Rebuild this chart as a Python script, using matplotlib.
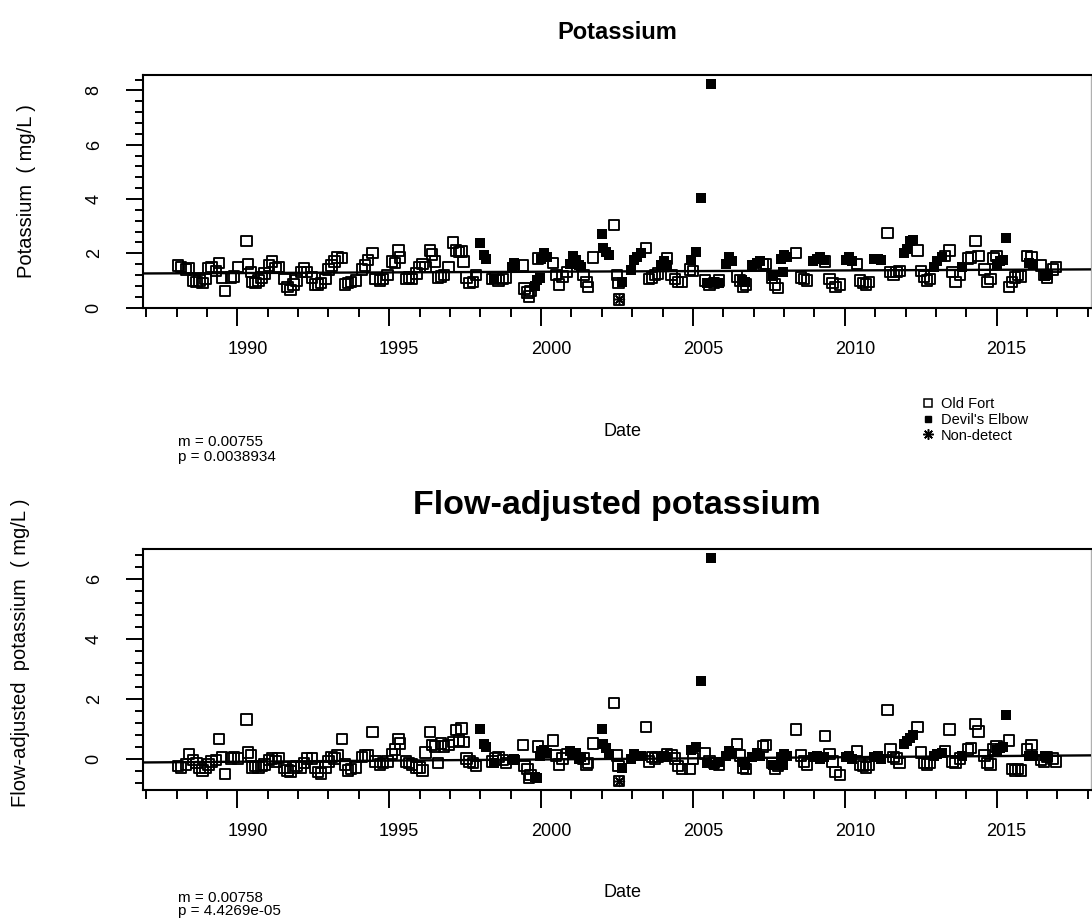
import matplotlib
matplotlib.use("Agg")
import matplotlib.pyplot as plt
from matplotlib.lines import Line2D
from matplotlib.transforms import ScaledTranslation

plt.rcParams['font.family'] = ['Liberation Sans', 'DejaVu Sans']

# Old Fort samples: decimal year, potassium (mg/L), flow-adjusted potassium (mg/L)
old_fort_date = [
    1988.05, 1988.15, 1988.3, 1988.4, 1988.55, 1988.65, 1988.75, 1988.85, 1988.95,
    1989.05, 1989.15, 1989.3, 1989.4, 1989.5, 1989.6, 1989.8, 1989.9,
    1990.03, 1990.3, 1990.35, 1990.45, 1990.5, 1990.6, 1990.7, 1990.8, 1990.9,
    1991.05, 1991.15, 1991.25, 1991.35, 1991.55, 1991.65, 1991.75, 1991.85, 1991.95,
    1992.1, 1992.2, 1992.3, 1992.45, 1992.55, 1992.65, 1992.75, 1992.9,
    1993.0, 1993.1, 1993.2, 1993.3, 1993.45, 1993.55, 1993.65, 1993.75, 1993.9,
    1994.1, 1994.2, 1994.3, 1994.45, 1994.55, 1994.7, 1994.8, 1994.95,
    1995.1, 1995.2, 1995.3, 1995.35, 1995.55, 1995.65, 1995.75, 1995.9,
    1996.0, 1996.1, 1996.2, 1996.35, 1996.4, 1996.5, 1996.6, 1996.7, 1996.8, 1996.95,
    1997.1, 1997.2, 1997.3, 1997.38, 1997.45, 1997.55, 1997.65, 1997.75, 1997.85,
    1998.4, 1998.5, 1998.6, 1998.75, 1998.85,
    1999.4, 1999.45, 1999.55, 1999.6, 1999.65, 1999.9,
    2000.4, 2000.5, 2000.6, 2000.7, 2000.85,
    2001.4, 2001.5, 2001.55, 2001.7,
    2002.4, 2002.5, 2002.55,
    2003.45, 2003.55, 2003.65, 2003.75, 2003.85,
    2004.15, 2004.3, 2004.4, 2004.5, 2004.65, 2004.9,
    2005.0, 2005.4, 2005.55, 2005.7, 2005.85,
    2006.45, 2006.55, 2006.65, 2006.75,
    2007.3, 2007.4, 2007.6, 2007.7, 2007.8,
    2008.4, 2008.55, 2008.65, 2008.75,
    2009.35, 2009.5, 2009.6, 2009.7, 2009.85,
    2010.4, 2010.5, 2010.6, 2010.7, 2010.8,
    2011.4, 2011.5, 2011.6, 2011.7, 2011.8,
    2012.4, 2012.5, 2012.6, 2012.7, 2012.8,
    2013.3, 2013.45, 2013.55, 2013.65, 2013.8,
    2014.05, 2014.15, 2014.3, 2014.4, 2014.6, 2014.7, 2014.8, 2014.9,
    2015.0, 2015.4, 2015.5, 2015.6, 2015.7, 2015.8,
    2016.0, 2016.15, 2016.45, 2016.55, 2016.65, 2016.85, 2016.95,
]
old_fort_k = [
    1.55, 1.5, 1.4, 1.45, 1.0, 0.95, 1.0, 0.9, 1.05,
    1.45, 1.5, 1.35, 1.63, 1.1, 0.6, 1.1, 1.15,
    1.5, 2.45, 1.6, 1.3, 0.95, 0.9, 1.0, 1.1, 1.25,
    1.55, 1.7, 1.45, 1.5, 1.05, 0.75, 0.65, 0.85, 1.0,
    1.3, 1.45, 1.3, 1.1, 0.85, 0.85, 0.9, 1.05,
    1.4, 1.55, 1.7, 1.85, 1.83, 0.85, 0.9, 0.95, 1.0,
    1.4, 1.55, 1.75, 2.0, 1.05, 1.0, 1.05, 1.2,
    1.7, 1.65, 2.1, 1.85, 1.05, 1.1, 1.05, 1.25,
    1.5, 1.6, 1.5, 2.1, 1.95, 1.7, 1.1, 1.15, 1.2, 1.5,
    2.4, 2.1, 2.05, 2.07, 1.7, 1.1, 0.9, 0.95, 1.2,
    1.05, 1.1, 1.0, 1.05, 1.1,
    1.55, 0.7, 0.55, 0.4, 0.6, 1.8,
    1.65, 1.2, 0.85, 1.15, 1.3,
    1.2, 0.95, 0.75, 1.85,
    3.05, 1.2, 0.9,
    2.2, 1.05, 1.1, 1.2, 1.25,
    1.8, 1.2, 1.05, 0.95, 0.95, 1.4,
    1.35, 1.0, 0.85, 0.9, 1.0,
    1.15, 1.0, 0.75, 0.85,
    1.6, 1.6, 1.1, 0.85, 0.72,
    2.0, 1.1, 1.05, 1.0,
    1.7, 1.05, 0.9, 0.75, 0.85,
    1.6, 1.0, 0.9, 0.85, 0.95,
    2.75, 1.3, 1.2, 1.3, 1.35,
    2.1, 1.35, 1.15, 1.0, 1.05,
    1.9, 2.1, 1.3, 0.95, 1.2,
    1.8, 1.85, 2.45, 1.9, 1.4, 0.95, 1.05, 1.8,
    1.9, 0.75, 0.95, 1.1, 1.2, 1.15,
    1.9, 1.85, 1.55, 1.2, 1.1, 1.4, 1.5,
]
old_fort_adj = [
    -0.25, -0.3, -0.2, 0.15, -0.05, -0.15, -0.3, -0.4, -0.3,
    -0.2, -0.1, -0.05, 0.65, 0.05, -0.52, 0.0, 0.05,
    0.0, 1.3, 0.2, 0.1, -0.3, -0.25, -0.3, -0.25, -0.2,
    -0.05, 0.0, -0.1, 0.03, -0.3, -0.4, -0.43, -0.3, -0.25,
    -0.3, -0.15, 0.0, 0.0, -0.3, -0.45, -0.5, -0.3,
    -0.1, 0.05, 0.0, 0.1, 0.65, -0.2, -0.4, -0.35, -0.3,
    0.05, 0.1, 0.1, 0.88, -0.1, -0.2, -0.15, -0.1,
    0.15, 0.3, 0.65, 0.5, -0.1, -0.15, -0.2, -0.3,
    -0.3, -0.4, 0.2, 0.88, 0.45, 0.4, -0.15, 0.5, 0.4, 0.45,
    0.55, 0.95, 0.6, 1.0, 0.55, 0.0, -0.1, -0.15, -0.25,
    -0.1, 0.0, 0.05, -0.05, -0.15,
    0.45, -0.25, -0.35, -0.65, -0.55, 0.4,
    0.6, 0.1, -0.2, 0.0, 0.15,
    0.0, -0.2, -0.15, 0.5,
    1.85, 0.1, -0.25,
    1.05, -0.1, 0.05, 0.0, 0.05,
    0.15, 0.1, 0.0, -0.25, -0.35, -0.35,
    0.0, 0.17, -0.1, -0.15, -0.2,
    0.48, 0.1, -0.3, -0.35,
    0.4, 0.45, -0.15, -0.35, -0.25,
    0.97, 0.1, -0.1, -0.2,
    0.76, 0.15, -0.1, -0.45, -0.55,
    0.25, -0.2, -0.25, -0.3, -0.2,
    1.62, 0.3, 0.05, 0.0, -0.15,
    1.05, 0.2, -0.15, -0.2, -0.15,
    0.25, 0.97, -0.1, -0.15, 0.0,
    0.3, 0.35, 1.15, 0.9, 0.1, -0.15, -0.2, 0.3,
    0.4, 0.6, -0.35, -0.4, -0.35, -0.4,
    0.3, 0.45, -0.05, -0.1, 0.05, 0.0, -0.1,
]

# Devil's Elbow samples
devils_date = [
    1998.0, 1998.12, 1998.18, 1998.45,
    1999.05, 1999.1, 1999.15, 1999.8, 1999.85, 1999.95,
    2000.0, 2000.1, 2000.2, 2000.95,
    2001.05, 2001.15, 2001.25, 2001.3,
    2002.0, 2002.05, 2002.15, 2002.25, 2002.65, 2002.95,
    2003.05, 2003.15, 2003.3, 2003.95,
    2004.05, 2004.15, 2004.95,
    2005.1, 2005.28, 2005.45, 2005.58, 2005.7, 2005.85,
    2006.1, 2006.2, 2006.3, 2006.6, 2006.7, 2006.95,
    2007.1, 2007.2, 2007.65, 2007.9, 2007.95,
    2008.0, 2008.1, 2008.95,
    2009.1, 2009.2, 2009.3,
    2010.05, 2010.15, 2010.25, 2010.95,
    2011.1, 2011.2, 2011.95,
    2012.05, 2012.15, 2012.25, 2012.95,
    2013.05, 2013.2, 2013.85,
    2015.0, 2015.1, 2015.2, 2015.3,
    2016.05, 2016.2, 2016.6, 2016.7,
]
devils_k = [
    2.38, 1.95, 1.8, 1.05,
    1.5, 1.65, 1.55, 0.8, 1.0, 1.1,
    1.8, 2.0, 1.85, 1.6,
    1.9, 1.75, 1.55, 1.5,
    2.7, 2.2, 2.05, 1.95, 0.95, 1.4,
    1.75, 1.85, 2.0, 1.55,
    1.7, 1.55, 1.75,
    2.05, 4.05, 0.9, 8.25, 0.95, 0.9,
    1.6, 1.85, 1.7, 1.0, 0.95, 1.55,
    1.65, 1.7, 1.15, 1.8, 1.3,
    1.95, 1.85, 1.7,
    1.8, 1.85, 1.75,
    1.75, 1.85, 1.7, 1.8,
    1.8, 1.75, 2.0,
    2.15, 2.45, 2.5, 1.5,
    1.7, 1.85, 1.5,
    1.6, 1.7, 1.75, 2.55,
    1.65, 1.6, 1.15, 1.2,
]
devils_adj = [
    1.0, 0.5, 0.4, -0.15,
    -0.05, 0.0, -0.05, -0.6, -0.65, 0.1,
    0.25, 0.3, 0.2, 0.25,
    0.15, 0.2, 0.0, 0.05,
    0.98, 0.5, 0.35, 0.15, -0.3, 0.0,
    0.15, 0.1, 0.1, 0.05,
    0.1, 0.05, 0.3,
    0.4, 2.6, -0.15, 6.7, -0.2, -0.1,
    0.1, 0.25, 0.2, -0.1, -0.2, 0.05,
    0.2, 0.1, -0.2, 0.05, -0.2,
    0.15, 0.1, 0.05,
    0.1, 0.0, 0.05,
    0.05, 0.1, 0.0, 0.05,
    0.1, 0.0, 0.5,
    0.6, 0.7, 0.8, 0.1,
    0.15, 0.2, 0.1,
    0.3, 0.35, 0.4, 1.45,
    0.1, 0.1, 0.1, 0.05,
]

# non-detect sample
nondetect_date = [2002.57]
nondetect_k = [0.3]
nondetect_adj = [-0.75]

# trend lines (value at 1988 and 2017)
trend_years = [1988, 2017]
trend_k = [1.26, 1.40]
trend_adj = [-0.12, 0.10]

stats_k = ["m = 0.00755", "p = 0.0038934"]
stats_adj = ["m = 0.00758", "p = 4.4269e-05"]

W, H = 1092, 919
fig = plt.figure(figsize=(W / 100, H / 100), dpi=100)


def px_axes(left, top, right, bottom):
    return fig.add_axes([left / W, 1 - bottom / H, (right - left) / W, (bottom - top) / H])


ax1 = px_axes(143, 75, 1091, 308)
ax2 = px_axes(143, 549, 1091, 790)

all_dates = old_fort_date + devils_date + nondetect_date
xlo, xhi = min(all_dates), max(all_dates)
xpad = 0.04 * (xhi - xlo)


def draw_panel(ax, of_vals, de_vals, nd_vals, trend, ymajor, yminor, title, tsize, tpad,
               ylabel, ylab_xy, date_y):
    ax.scatter(old_fort_date, of_vals, marker='s', s=56, facecolors='none',
               edgecolors='black', linewidths=1.35, zorder=2)
    ax.scatter(devils_date, de_vals, marker='s', s=46, color='black', linewidths=0, zorder=3)
    ax.scatter(nondetect_date, nd_vals, marker='s', s=56, facecolors='none',
               edgecolors='black', linewidths=1.35, zorder=3)
    ax.scatter(nondetect_date, nd_vals, marker=(8, 2, 0), s=50, color='black',
               linewidths=1.1, zorder=4)
    ax.axline((trend_years[0], trend[0]), (trend_years[1], trend[1]), color='black',
              lw=1.7, zorder=5)

    vals = of_vals + de_vals + nd_vals
    lo, hi = min(vals), max(vals)
    pad = 0.04 * (hi - lo)
    ax.set_ylim(lo - pad, hi + pad)
    ax.set_xlim(xlo - xpad, xhi + xpad)

    ax.set_xticks([1990, 1995, 2000, 2005, 2010, 2015])
    ax.set_xticks(list(range(1987, 2019)), minor=True)
    ax.set_yticks(ymajor)
    ax.set_yticks(yminor, minor=True)
    ax.tick_params(axis='x', which='major', length=13, width=1.4, labelsize=13, pad=11)
    ax.tick_params(axis='x', which='minor', length=6.5, width=1.4)
    ax.tick_params(axis='y', which='major', length=12, width=1.4, labelsize=13, pad=17,
                   labelrotation=90)
    ax.tick_params(axis='y', which='minor', length=6, width=1.4)
    for lab in ax.get_yticklabels():
        lab.set_va('center')
    shift = ScaledTranslation(10 / 100, 0, fig.dpi_scale_trans)
    for lab in ax.get_xticklabels():
        lab.set_transform(lab.get_transform() + shift)

    for side in ['left', 'bottom', 'top']:
        ax.spines[side].set_linewidth(1.5)
    ax.spines['right'].set_color('#b0b0b0')
    ax.spines['right'].set_linewidth(1.0)

    ax.set_title(title, fontsize=tsize, fontweight='bold', pad=tpad)
    ax.set_ylabel(ylabel, fontsize=14.5, va='center')
    ax.yaxis.set_label_coords(*ylab_xy)
    ax.set_xlabel('Date', fontsize=13, va='center')
    ax.xaxis.set_label_coords(0.506, date_y)


draw_panel(ax1, old_fort_k, devils_k, nondetect_k, trend_k,
           [0, 2, 4, 6, 8], [i * 0.4 for i in range(22)],
           'Potassium', 17, 26, 'Potassium  ( mg/L )', (-0.1234, 0.5), -0.532)
draw_panel(ax2, old_fort_adj, devils_adj, nondetect_adj, trend_adj,
           [0, 2, 4, 6], [-0.8 + i * 0.4 for i in range(20)],
           'Flow-adjusted potassium', 24.5, 25, 'Flow-adjusted  potassium  ( mg/L )',
           (-0.1297, 0.57), -0.427)

fig.text(178 / W, 1 - 442 / H, stats_k[0], fontsize=11, va='center')
fig.text(178 / W, 1 - 457 / H, stats_k[1], fontsize=11, va='center')
fig.text(178 / W, 1 - 898 / H, stats_adj[0], fontsize=11, va='center')
fig.text(178 / W, 1 - 911 / H, stats_adj[1], fontsize=11, va='center')

handles = [
    Line2D([], [], ls='none', marker='s', ms=5.5, mfc='none', mec='black', mew=1.1),
    Line2D([], [], ls='none', marker='s', ms=5, color='black'),
    Line2D([], [], ls='none', marker=(8, 2, 0), ms=7.5, color='black', mew=1.1),
]
fig.legend(handles, ["Old Fort", "Devil's Elbow", "Non-detect"], loc='upper left',
           bbox_to_anchor=(922 / W, 1 - 397 / H), frameon=False, fontsize=10.5,
           handlelength=0.8, handletextpad=0.5, labelspacing=0.12, borderpad=0,
           borderaxespad=0)

fig.savefig('out.png', dpi=100)
